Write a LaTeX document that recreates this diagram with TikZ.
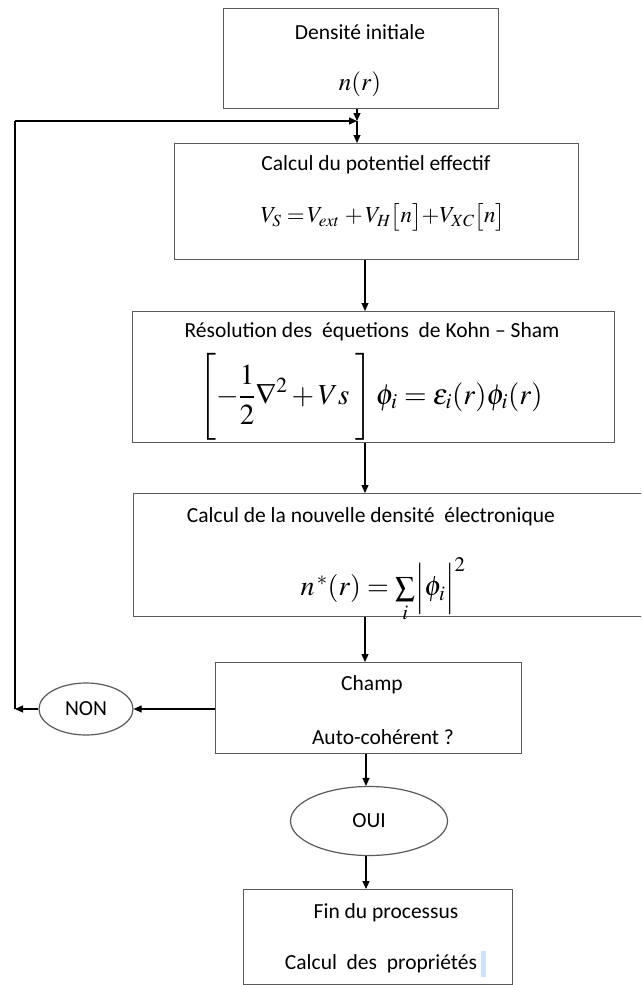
\documentclass[tikz,border=0pt]{standalone}
\usepackage{mathptmx}
\usepackage{fontspec}
\setmainfont{Carlito}
\usetikzlibrary{arrows.meta,shapes.geometric}
\definecolor{boxgray}{HTML}{5A5A5A}
\definecolor{cursorblue}{HTML}{CFE2F7}
\begin{document}
\begin{tikzpicture}[x=1pt,y=-1pt,
  boxst/.style={draw=boxgray,line width=1.4pt,rectangle,inner sep=0pt,anchor=north west},
  ovalst/.style={draw=boxgray,line width=1.2pt,ellipse,inner sep=0pt,font=\fontsize{21.5}{25}\selectfont},
  txt/.style={inner sep=0pt,font=\fontsize{21.5}{25}\selectfont},
  mth/.style={inner sep=0pt,font=\fontsize{25}{30}\selectfont},
  arr/.style={draw=black,line width=1.1pt,-{Triangle[length=8pt,width=7pt]}},
  ln/.style={draw=black,line width=1.1pt}]
\useasboundingbox (0,0) rectangle (641,985);
\clip (0,0) rectangle (641,985);
\fill[white] (0,0) rectangle (641,985);

% boxes
\node[boxst,minimum width=275pt,minimum height=100pt] (b1) at (223,8) {};
\node[boxst,minimum width=404pt,minimum height=116pt] (b2) at (174,143) {};
\node[boxst,minimum width=482pt,minimum height=131pt] (b3) at (132,311) {};
\node[boxst,minimum width=520pt,minimum height=123pt] (b4) at (133,493) {};
\node[boxst,minimum width=306pt,minimum height=91pt] (b5) at (215,662) {};
\node[boxst,minimum width=269pt,minimum height=95pt] (b6) at (243,889) {};
\node[ovalst,minimum width=94pt,minimum height=52pt] (non) at (86,709) {NON};
\node[ovalst,minimum width=157pt,minimum height=69pt] (oui) at (369,821) {OUI};

% texts
\node[txt] (t1a) at (360,32) {Densité initiale};
\node[mth] (t1b) at (360,84) {$n(r)$};
\node[txt] (t2a) at (376,165) {Calcul du potentiel effectif};
\node[mth,font=\fontsize{23}{28}\selectfont] (t2b) at (383,217) {$V_S\;{=}\,V_{ext}\;{+}\,V_H\bigl[n\bigr]{+}V_{XC}\bigl[n\bigr]$};
\node[txt] (t3a) at (372,332) {Résolution des\ \ équetions\ \ de Kohn – Sham};
\node[mth,font=\fontsize{29}{34}\selectfont] (t3b) at (371,397) {$\displaystyle\left[\vrule height 36pt depth 36pt width 0pt -\frac{1}{2}\nabla^2 + Vs\;\right]\phi_i = \varepsilon_i(r)\phi_i(r)$};
\node[txt] (t4a) at (371,517) {Calcul de la nouvelle densité\ \ électronique};
\node[mth,font=\fontsize{28}{33}\selectfont] (t4b) at (383,590) {$n^{\,*}(r) = \sum\limits_i \Bigl|\phi_i\Bigr|^2$};
\node[txt] (t5a) at (372,685) {Champ};
\node[txt] (t5b) at (383,737) {Auto-cohérent ?};
\node[txt] (t6a) at (386,913) {Fin du processus};
\node[txt] (t6b) at (381,964) {Calcul\ \ des\ \ propriétés};
\fill[cursorblue] (481,951) rectangle (486,977);

% connector helpers
\coordinate (j) at (357,121);
\coordinate (ct) at (15,121);
\coordinate (cl) at (15,709);
\coordinate (xa) at (365,0);
\coordinate (xb) at (366,0);

% connectors
\draw[arr] (j |- b1.south) -- (j);
\draw[arr] (j) -- (j |- b2.north);
\draw[arr] (xa |- b2.south) -- (xa |- b3.north);
\draw[arr] (xa |- b3.south) -- (xa |- b4.north);
\draw[arr] (xa |- b4.south) -- (xa |- b5.north);
\draw[arr] (b5.west |- non) -- (non.east);
\draw[arr] (non.west) -- (cl);
\draw[ln] (cl) -- (ct);
\draw[arr] (ct) -- (j);
\draw[arr] (xb |- b5.south) -- (xb |- oui.north);
\draw[arr] (xb |- oui.south) -- (xb |- b6.north);
\end{tikzpicture}
\end{document}
